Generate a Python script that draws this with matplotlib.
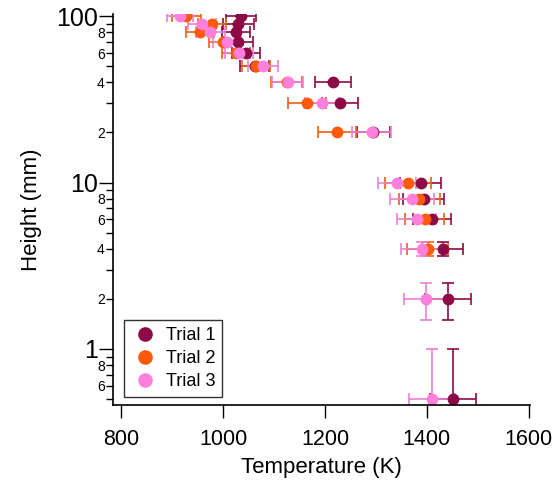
import numpy as np
import matplotlib.pyplot as plt
from matplotlib.lines import Line2D
from matplotlib.ticker import FixedLocator, FuncFormatter

plt.rcParams['font.family'] = ['Liberation Sans', 'DejaVu Sans']

# sampling heights above the burner (mm)
height = [0.5, 2, 4, 6, 8, 10, 20, 30, 40, 50, 60, 70, 80, 90, 100]

# temperature (K) and uncertainties for each trial
temp_1 = [1452, 1441, 1431, 1410, 1394, 1388, 1295, 1229, 1216, 1062, 1045, 1030, 1025, 1030, 1035]
xerr_1 = [45, 45, 40, 37, 40, 40, 33, 35, 35, 28, 28, 28, 28, 30, 30]
yerr_1 = [0.5, 0.5, 0.4, 0, 0, 0, 0, 0, 0, 0, 0, 0, 0, 0, 0]

temp_2 = [np.nan, np.nan, 1402, 1396, 1385, 1363, 1224, 1165, 1125, 1065, 1025, 1000, 955, 978, 928]
xerr_2 = [0, 0, 40, 38, 40, 45, 37, 37, 30, 28, 28, 28, 28, 28, 28]
yerr_2 = [0, 0, 0.4, 0, 0, 0, 0, 0, 0, 0, 0, 0, 0, 0, 0]

temp_3 = [1410, 1398, 1390, 1380, 1371, 1341, 1292, 1194, 1127, 1078, 1031, 1008, 975, 959, 915]
xerr_3 = [45, 43, 41, 39, 43, 37, 38, 33, 30, 30, 28, 28, 28, 28, 25]
yerr_3 = [0.5, 0.5, 0.4, 0, 0, 0, 0, 0, 0, 0, 0, 0, 0, 0, 0]

trials = [
    ("Trial 1", temp_1, xerr_1, yerr_1, "#8c0a46", "#8c0a46"),
    ("Trial 2", temp_2, xerr_2, yerr_2, "#ff5a0a", "#f06010"),
    ("Trial 3", temp_3, xerr_3, yerr_3, "#ff80dc", "#ec80d4"),
]

fig = plt.figure(figsize=(5.57, 4.84), dpi=100)
ax = fig.add_axes([0.203, 0.163, 0.748, 0.808])

handles = []
for name, t, xe, ye, c, ec in trials:
    ax.errorbar(t, height, xerr=xe, yerr=ye, fmt='o', color=c, ms=7.5,
                ecolor=ec, elinewidth=1.2, capsize=4, capthick=1.2)
    handles.append(Line2D([], [], ls='none', marker='o', color=c, ms=9.5, label=name))

ax.set_yscale('log')
ax.set_ylim(0.46, 103)
ax.set_xlim(784, 1602)
ax.set_xticks([800, 1000, 1200, 1400, 1600])


def minor_label(v, pos):
    m = int(round(v / 10 ** np.floor(np.log10(v) + 1e-9)))
    return str(m) if m in (2, 4, 6, 8) else ""


ax.yaxis.set_major_locator(FixedLocator([1, 10, 100]))
ax.yaxis.set_major_formatter(FuncFormatter(lambda v, p: "%g" % v))
minors = [m * d for d in (0.1, 1, 10) for m in range(2, 10)]
ax.yaxis.set_minor_locator(FixedLocator(minors))
ax.yaxis.set_minor_formatter(FuncFormatter(minor_label))

ax.tick_params(axis='y', which='major', direction='out', length=10, width=1, labelsize=18, pad=1)
ax.tick_params(axis='y', which='minor', direction='out', length=5, width=1, labelsize=10, pad=1)
ax.tick_params(axis='x', which='major', direction='out', length=9, width=1, labelsize=15.5, pad=8)

for s in ('top', 'right'):
    ax.spines[s].set_visible(False)
for s in ('left', 'bottom'):
    ax.spines[s].set_linewidth(1.2)

ax.set_xlabel("Temperature (K)", fontsize=16, labelpad=5)
ax.set_ylabel("Height (mm)", fontsize=16, labelpad=10)

leg = ax.legend(handles=handles, loc='lower left', bbox_to_anchor=(0.005, -0.003),
                fontsize=13, frameon=True, fancybox=False, edgecolor='black',
                handletextpad=0.4, borderpad=0.4, labelspacing=0.32,
                handlelength=1.5)
leg.get_frame().set_linewidth(1.0)

fig.savefig("out.png", dpi=100)
